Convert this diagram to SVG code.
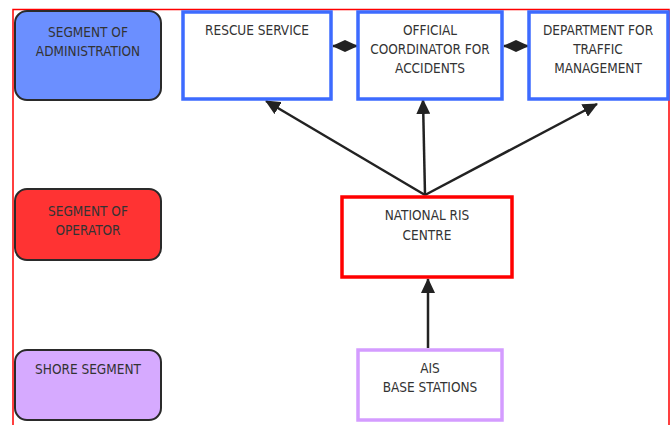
<svg xmlns="http://www.w3.org/2000/svg" width="672" height="425" viewBox="0 0 672 425">
<style>
text{font-family:"DejaVu Sans Condensed","DejaVu Sans",sans-serif;font-stretch:condensed;font-size:13.5px;fill:#333;text-anchor:middle}
.seg{stroke:#2a2a2a;stroke-width:2}
.box{fill:#fff;stroke-width:3.5}
.con{stroke:#222;stroke-width:2.5;fill:none}
</style>
<defs>
<marker id="ah" markerWidth="15" markerHeight="14" refX="14" refY="7" orient="auto" markerUnits="userSpaceOnUse" viewBox="0 0 15 14">
<path d="M0,0 L15,7 L0,14 Z" fill="#222"/>
</marker>
<marker id="dh" markerWidth="13" markerHeight="12" refX="12" refY="6" orient="auto-start-reverse" markerUnits="userSpaceOnUse" viewBox="0 0 13 12">
<path d="M0,0 L13,6 L0,12 Z" fill="#222"/>
</marker>
</defs>
<rect x="13" y="9.5" width="656" height="430" fill="none" stroke="#ff0000" stroke-width="1.5"/>
<g id="connectors">
<line class="con" x1="425" y1="195" x2="266" y2="101" marker-end="url(#ah)"/>
<line class="con" x1="425" y1="195" x2="423" y2="100" marker-end="url(#ah)"/>
<line class="con" x1="425" y1="195" x2="597" y2="104" marker-end="url(#ah)"/>
<line class="con" x1="428" y1="348" x2="428" y2="279" marker-end="url(#ah)"/>
<line class="con" x1="333" y1="46" x2="357" y2="46" marker-start="url(#dh)" marker-end="url(#dh)"/>
<line class="con" x1="504" y1="46" x2="528" y2="46" marker-start="url(#dh)" marker-end="url(#dh)"/>
</g>
<g id="seg-admin">
<rect class="seg" x="15" y="11" width="146" height="89" rx="12" fill="#6b8fff"/>
<text x="88" y="37">SEGMENT OF</text>
<text x="88" y="56">ADMINISTRATION</text>
</g>
<g id="seg-operator">
<rect class="seg" x="15" y="189" width="146" height="71" rx="12" fill="#ff3333"/>
<text x="88" y="216">SEGMENT OF</text>
<text x="88" y="235">OPERATOR</text>
</g>
<g id="seg-shore">
<rect class="seg" x="15" y="350" width="146" height="70" rx="12" fill="#d6aaff"/>
<text x="88" y="374">SHORE SEGMENT</text>
</g>
<g id="rescue">
<rect class="box" x="183" y="12" width="148" height="87" stroke="#3d6bff"/>
<text x="257" y="35">RESCUE SERVICE</text>
</g>
<g id="coordinator">
<rect class="box" x="358" y="12" width="144" height="87" stroke="#3d6bff"/>
<text x="430" y="35">OFFICIAL</text>
<text x="430" y="54">COORDINATOR FOR</text>
<text x="430" y="73">ACCIDENTS</text>
</g>
<g id="traffic">
<rect class="box" x="529" y="12" width="139" height="87" stroke="#3d6bff"/>
<text x="598" y="35">DEPARTMENT FOR</text>
<text x="598" y="54">TRAFFIC</text>
<text x="598" y="73">MANAGEMENT</text>
</g>
<g id="ris">
<rect class="box" x="342" y="197" width="170" height="80" stroke="#ff0000"/>
<text x="427" y="220">NATIONAL RIS</text>
<text x="427" y="240">CENTRE</text>
</g>
<g id="ais">
<rect class="box" x="358" y="350" width="144" height="70" stroke="#d49cff"/>
<text x="430" y="373">AIS</text>
<text x="430" y="392">BASE STATIONS</text>
</g>
</svg>
